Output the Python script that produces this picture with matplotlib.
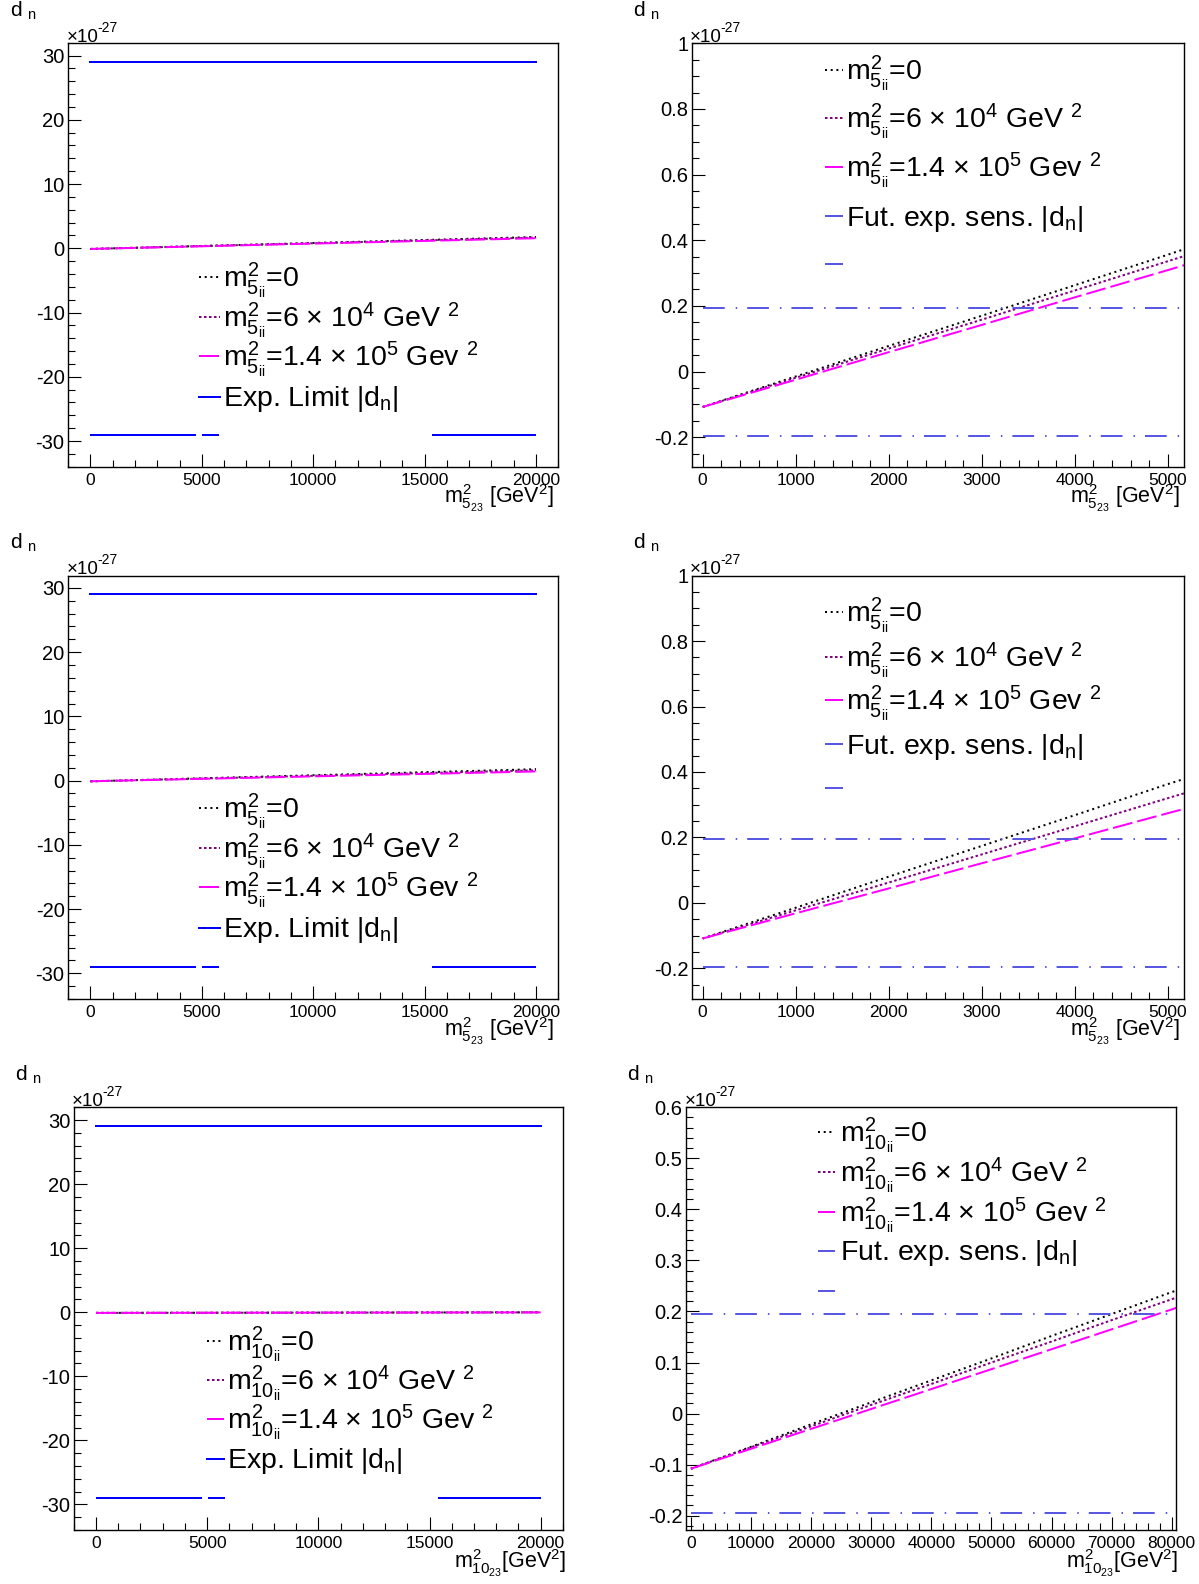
import matplotlib
matplotlib.use('Agg')
import matplotlib.pyplot as plt
from matplotlib.lines import Line2D
from matplotlib.ticker import MultipleLocator, FuncFormatter

# ---------------- data (d_n in units of 1e-27) ----------------
# top row / middle row left: m^2_{5_23} from 0 to 20000
x_a = [0, 5000, 10000, 15000, 20000]
a_m0 = [-0.108, 0.356, 0.820, 1.284, 1.748]
a_m6e4 = [-0.108, 0.336, 0.780, 1.224, 1.668]
a_m14e5 = [-0.108, 0.309, 0.726, 1.143, 1.560]

# top row right: zoom 0..5200
x_b = [0, 1000, 2000, 3000, 4000, 5000, 5200]
b_m0 = [-0.108, -0.015, 0.078, 0.170, 0.263, 0.356, 0.375]
b_m6e4 = [-0.108, -0.019, 0.070, 0.158, 0.247, 0.336, 0.354]
b_m14e5 = [-0.108, -0.025, 0.059, 0.142, 0.226, 0.309, 0.326]

# middle row left
x_c = [0, 5000, 10000, 15000, 20000]
c_m0 = [-0.109, 0.363, 0.834, 1.306, 1.777]
c_m6e4 = [-0.109, 0.320, 0.748, 1.177, 1.605]
c_m14e5 = [-0.109, 0.274, 0.657, 1.040, 1.423]

# middle row right
x_d = [0, 1000, 2000, 3000, 4000, 5000, 5200]
d_m0 = [-0.109, -0.015, 0.080, 0.174, 0.268, 0.363, 0.381]
d_m6e4 = [-0.109, -0.023, 0.062, 0.148, 0.234, 0.320, 0.337]
d_m14e5 = [-0.109, -0.032, 0.044, 0.121, 0.197, 0.274, 0.289]

# bottom row left: m^2_{10_23} from 0 to 20000
x_e = [0, 5000, 10000, 15000, 20000]
e_m0 = [-0.108, -0.086, -0.065, -0.043, -0.021]
e_m6e4 = [-0.108, -0.087, -0.067, -0.046, -0.025]
e_m14e5 = [-0.108, -0.088, -0.069, -0.049, -0.030]

# bottom row right: 0..81000
x_f = [0, 10000, 20000, 30000, 40000, 50000, 60000, 70000, 80000, 81000]
f_m0 = [-0.108, -0.065, -0.021, 0.022, 0.065, 0.108, 0.152, 0.195, 0.238, 0.242]
f_m6e4 = [-0.108, -0.066, -0.025, 0.017, 0.058, 0.100, 0.141, 0.183, 0.224, 0.228]
f_m14e5 = [-0.108, -0.069, -0.030, 0.009, 0.048, 0.087, 0.126, 0.165, 0.204, 0.208]

exp_limit = 29.0
limit_x = [0, 20000]
fut_sens = 0.195
sens_x_small = [0, 5150]
sens_x_large = [0, 80000]

leg5 = [r'$m^{2}_{5_{ii}}$=0',
        r'$m^{2}_{5_{ii}}$=6 × 10$^{4}$ GeV $^{2}$',
        r'$m^{2}_{5_{ii}}$=1.4 × 10$^{5}$ Gev $^{2}$']
leg10 = [r'$m^{2}_{10_{ii}}$=0',
         r'$m^{2}_{10_{ii}}$=6 × 10$^{4}$ GeV $^{2}$',
         r'$m^{2}_{10_{ii}}$=1.4 × 10$^{5}$ Gev $^{2}$']
leg_exp = r'Exp. Limit |d$_{n}$|'
leg_fut = r'Fut. exp. sens. |d$_{n}$|'
xtitle5 = r'$m^{2}_{5_{23}}\,\,$[GeV$^{2}$]'
xtitle10 = r'$m^{2}_{10_{23}}$[GeV$^{2}$]'
ytitle = r'd $_{n}$'
yscale_base = '×10'
yscale_exp = '-27'

# ---------------- style ----------------
plt.rcParams['font.family'] = ['Liberation Sans', 'DejaVu Sans']
plt.rcParams['mathtext.fontset'] = 'custom'
plt.rcParams['mathtext.rm'] = 'Liberation Sans'
plt.rcParams['mathtext.it'] = 'Liberation Sans'
plt.rcParams['mathtext.sf'] = 'Liberation Sans'
plt.rcParams['mathtext.bf'] = 'Liberation Sans:bold'
plt.rcParams['axes.unicode_minus'] = False
plt.rcParams['lines.scale_dashes'] = False

W, H = 1199, 1584
fig = plt.figure(figsize=(W / 100, H / 100), dpi=100)


def pt(v):
    return v * 72.0 / 100.0


def fx(x):
    return x / W


def fy(y):
    return 1 - y / H


LW = pt(2.0)
ST_M0 = dict(color='black', lw=LW, dashes=(pt(2.0), pt(3.7)))
ST_M6 = dict(color='#800080', lw=LW, dashes=(pt(2.5), pt(2.5)))
ST_M14 = dict(color='#ff00ff', lw=LW, dashes=(pt(20), pt(5)))
ST_EXP = dict(color='#0000ff', lw=LW, linestyle='-')
ST_EXP_LOW = dict(color='#0000ff', lw=LW, dashes=(pt(106), pt(6), pt(17), pt(213)))
ST_FUT = dict(color='#5858e2', lw=LW, dashes=(pt(21.7), pt(11), pt(1.5), pt(10)))


def fmt(v, pos):
    if abs(v) < 1e-9:
        return '0'
    return '%g' % round(v, 6)


panels = [
    dict(rect=(68.1, 43.3, 558.3, 466.7), xlim=(-1000, 21000), ylim=(-34, 31.9),
         xt=(5000, 1000), yt=(10, 2), x=x_a, ys=(a_m0, a_m6e4, a_m14e5), kind='exp',
         leg=leg5, legpos=(199.3, 220.0, 222.7, [276.7, 316.7, 356.0, 396.7]),
         xtitle=xtitle5, xtoff=(-4, 37)),
    dict(rect=(691.7, 43.3, 1183.6, 466.7), xlim=(-118, 5169), ylim=(-0.29, 1.0),
         xt=(1000, 200), yt=(0.2, 0.05), x=x_b, ys=(b_m0, b_m6e4, b_m14e5), kind='fut',
         sx=sens_x_small,
         leg=leg5, legpos=(824.5, 842.5, 846.4, [70.0, 118.3, 166.7, 216.0, 264.0]),
         xtitle=xtitle5, xtoff=(-4, 37)),
    dict(rect=(68.1, 575.7, 558.3, 999.0), xlim=(-1000, 21000), ylim=(-34, 31.9),
         xt=(5000, 1000), yt=(10, 2), x=x_c, ys=(c_m0, c_m6e4, c_m14e5), kind='exp',
         leg=leg5, legpos=(199.3, 220.0, 222.7, [807.7, 847.7, 887.0, 927.7]),
         xtitle=xtitle5, xtoff=(-4, 37)),
    dict(rect=(691.7, 575.7, 1183.6, 999.0), xlim=(-118, 5169), ylim=(-0.294, 1.0),
         xt=(1000, 200), yt=(0.2, 0.05), x=x_d, ys=(d_m0, d_m6e4, d_m14e5), kind='fut',
         sx=sens_x_small,
         leg=leg5, legpos=(824.5, 842.5, 846.4, [612.3, 656.7, 700.0, 744.3, 788.3]),
         xtitle=xtitle5, xtoff=(-4, 37)),
    dict(rect=(73.8, 1107.2, 562.9, 1530.0), xlim=(-1000, 21000), ylim=(-34, 32.0),
         xt=(5000, 1000), yt=(10, 2), x=x_e, ys=(e_m0, e_m6e4, e_m14e5), kind='exp',
         leg=leg10, legpos=(206.5, 223.7, 227.5, [1341.0, 1380.2, 1419.4, 1458.5]),
         xtitle=xtitle10, xtoff=(3, 38)),
    dict(rect=(685.9, 1107.2, 1175.7, 1530.0), xlim=(-830, 80650), ylim=(-0.228, 0.6),
         xt=(10000, 2000), yt=(0.1, 0.02), x=x_f, ys=(f_m0, f_m6e4, f_m14e5), kind='fut',
         sx=sens_x_large,
         leg=leg10, legpos=(817.7, 834.9, 839.9, [1131.7, 1171.9, 1211.7, 1250.9, 1291.0]),
         xtitle=xtitle10, xtoff=(3, 38)),
]

LEG_FS = 20.5
for p in panels:
    l, t, r, b = p['rect']
    ax = fig.add_axes([fx(l), fy(b), (r - l) / W, (b - t) / H])
    ax.set_xlim(*p['xlim'])
    ax.set_ylim(*p['ylim'])
    for s in ax.spines.values():
        s.set_linewidth(1.0)
    ax.xaxis.set_major_locator(MultipleLocator(p['xt'][0]))
    ax.xaxis.set_minor_locator(MultipleLocator(p['xt'][1]))
    ax.yaxis.set_major_locator(MultipleLocator(p['yt'][0]))
    ax.yaxis.set_minor_locator(MultipleLocator(p['yt'][1]))
    ax.xaxis.set_major_formatter(FuncFormatter(fmt))
    ax.yaxis.set_major_formatter(FuncFormatter(fmt))
    ax.tick_params(which='both', direction='in', top=False, right=False, width=0.8)
    ax.tick_params(which='major', length=pt(13))
    ax.tick_params(which='minor', length=pt(6.7))
    ax.tick_params(axis='x', which='major', labelsize=12.5, pad=pt(6.0))
    ax.tick_params(axis='y', which='major', labelsize=14.5, pad=pt(3.5))

    st = (ST_M0, ST_M6, ST_M14)
    for yv, s in zip(p['ys'], st):
        ax.plot(p['x'], yv, **s)

    if p['kind'] == 'exp':
        ax.plot(limit_x, [exp_limit, exp_limit], **ST_EXP)
        ax.plot(limit_x, [-exp_limit, -exp_limit], **ST_EXP_LOW)
        leg_styles = [ST_M0, ST_M6, ST_M14, ST_EXP]
        leg_labels = list(p['leg']) + [leg_exp]
    else:
        ax.plot(p['sx'], [fut_sens, fut_sens], **ST_FUT)
        ax.plot(p['sx'], [-fut_sens, -fut_sens], **ST_FUT)
        leg_styles = [ST_M0, ST_M6, ST_M14, ST_FUT, ST_FUT]
        leg_labels = list(p['leg']) + [leg_fut, '']

    # legend (ROOT-style, no frame)
    x0, x1, xt, ys = p['legpos']
    for s, lab, yy in zip(leg_styles, leg_labels, ys):
        fig.add_artist(Line2D([fx(x0), fx(x1)], [fy(yy), fy(yy)], transform=fig.transFigure, **s))
        if lab:
            fig.text(fx(xt), fy(yy + 9.5), lab, fontsize=LEG_FS, ha='left', va='baseline')

    # axis titles
    dx, dy = p['xtoff']
    fig.text(fx(r + dx), fy(b + dy), p['xtitle'], fontsize=15.5, ha='right', va='baseline')
    fig.text(fx(l - 58.5), fy(t - 26.5), ytitle, fontsize=15, ha='left', va='baseline')
    fig.text(fx(l - 1.6), fy(t - 1.6), yscale_base, fontsize=13.5, ha='left', va='baseline')
    fig.text(fx(l + 29.0), fy(t - 11.5), yscale_exp, fontsize=10, ha='left', va='baseline')

fig.savefig('out.png', dpi=100, facecolor='white')
